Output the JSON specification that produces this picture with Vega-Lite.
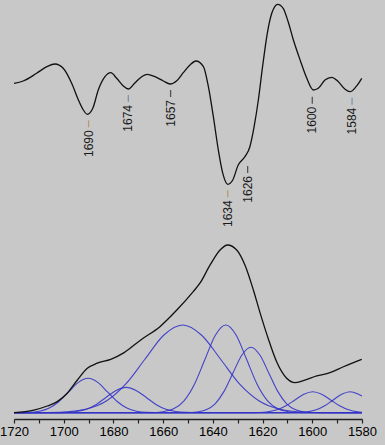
{
  "$schema": "https://vega.github.io/schema/vega-lite/v6.json",
  "width": 348,
  "height": 419,
  "autosize": {"type": "none"},
  "padding": {"left": 14, "top": 0, "right": 23, "bottom": 26},
  "background": "#c8c8c8",
  "config": {"view": {"stroke": null}, "font": "Liberation Sans"},
  "datasets": {
    "deriv": [
      {"w": 1720.0, "d": -0.033}, {"w": 1716.3, "d": -0.01}, {"w": 1710.9, "d": 0.067}, {"w": 1706.8, "d": 0.133},
      {"w": 1703.5, "d": 0.16}, {"w": 1700.2, "d": 0.117}, {"w": 1696.8, "d": -0.033}, {"w": 1694.1, "d": -0.2},
      {"w": 1692.1, "d": -0.3}, {"w": 1690.5, "d": -0.343}, {"w": 1688.3, "d": -0.283}, {"w": 1686.1, "d": -0.1},
      {"w": 1683.4, "d": 0.033}, {"w": 1681.1, "d": 0.073}, {"w": 1678.7, "d": 0.017}, {"w": 1676.0, "d": -0.06},
      {"w": 1674.0, "d": -0.09}, {"w": 1671.3, "d": -0.027}, {"w": 1668.6, "d": 0.033}, {"w": 1666.4, "d": 0.057},
      {"w": 1663.3, "d": 0.033}, {"w": 1659.9, "d": -0.01}, {"w": 1657.2, "d": -0.04}, {"w": 1654.5, "d": -0.007},
      {"w": 1651.9, "d": 0.073}, {"w": 1649.2, "d": 0.15}, {"w": 1646.8, "d": 0.19}, {"w": 1643.8, "d": 0.133},
      {"w": 1641.8, "d": -0.067}, {"w": 1639.8, "d": -0.367}, {"w": 1637.8, "d": -0.7}, {"w": 1636.0, "d": -0.933},
      {"w": 1634.0, "d": -1.043}, {"w": 1632.0, "d": -1.0}, {"w": 1629.8, "d": -0.85}, {"w": 1627.1, "d": -0.767},
      {"w": 1625.1, "d": -0.667}, {"w": 1623.4, "d": -0.467}, {"w": 1621.7, "d": -0.2}, {"w": 1620.0, "d": 0.133},
      {"w": 1618.1, "d": 0.467}, {"w": 1616.3, "d": 0.667}, {"w": 1613.9, "d": 0.757}, {"w": 1611.7, "d": 0.717},
      {"w": 1609.8, "d": 0.59}, {"w": 1607.6, "d": 0.4}, {"w": 1604.9, "d": 0.2}, {"w": 1602.2, "d": 0.017},
      {"w": 1599.6, "d": -0.1}, {"w": 1597.6, "d": -0.083}, {"w": 1594.9, "d": 0.0}, {"w": 1592.2, "d": 0.027},
      {"w": 1589.5, "d": -0.017}, {"w": 1586.8, "d": -0.093}, {"w": 1584.8, "d": -0.117}, {"w": 1582.4, "d": -0.067},
      {"w": 1580.1, "d": 0.017}
    ],
    "peaks": [
      {"w": 1690, "d": -0.343, "label": "1690", "set": "A"},
      {"w": 1674, "d": -0.09, "label": "1674", "set": "B"},
      {"w": 1657, "d": -0.04, "label": "1657", "set": "C"},
      {"w": 1634, "d": -1.043, "label": "1634", "set": "A"},
      {"w": 1626, "d": -0.8, "label": "1626", "set": "C"},
      {"w": 1600, "d": -0.107, "label": "1600", "set": "C"},
      {"w": 1584, "d": -0.117, "label": "1584", "set": "B"}
    ],
    "envelope": [
      {"w": 1720.0, "a": 0.0}, {"w": 1712.0, "a": 0.016}, {"w": 1706.6, "a": 0.04}, {"w": 1702.6, "a": 0.066},
      {"w": 1698.6, "a": 0.116}, {"w": 1694.5, "a": 0.195}, {"w": 1690.5, "a": 0.265}, {"w": 1686.5, "a": 0.295},
      {"w": 1681.1, "a": 0.318}, {"w": 1675.7, "a": 0.358}, {"w": 1669.0, "a": 0.434}, {"w": 1661.3, "a": 0.513},
      {"w": 1654.5, "a": 0.612}, {"w": 1647.9, "a": 0.722}, {"w": 1645.2, "a": 0.772}, {"w": 1641.1, "a": 0.881},
      {"w": 1637.1, "a": 0.97}, {"w": 1634.1, "a": 1.0}, {"w": 1630.4, "a": 0.97}, {"w": 1627.1, "a": 0.881},
      {"w": 1623.7, "a": 0.732}, {"w": 1621.0, "a": 0.595}, {"w": 1617.8, "a": 0.445}, {"w": 1614.3, "a": 0.302},
      {"w": 1610.3, "a": 0.205}, {"w": 1607.0, "a": 0.179}, {"w": 1603.6, "a": 0.191}, {"w": 1598.2, "a": 0.219},
      {"w": 1592.9, "a": 0.239}, {"w": 1587.5, "a": 0.274}, {"w": 1580.1, "a": 0.318}
    ],
    "bands": [
      {"band": "1690", "w": 1720, "a": 0}, {"band": "1690", "w": 1714.6, "a": 0.002}, {"band": "1690", "w": 1709.7, "a": 0.009},
      {"band": "1690", "w": 1705.8, "a": 0.028}, {"band": "1690", "w": 1701.9, "a": 0.067}, {"band": "1690", "w": 1698.0, "a": 0.124},
      {"band": "1690", "w": 1694.1, "a": 0.181}, {"band": "1690", "w": 1690.2, "a": 0.205}, {"band": "1690", "w": 1686.3, "a": 0.181},
      {"band": "1690", "w": 1682.4, "a": 0.124}, {"band": "1690", "w": 1678.5, "a": 0.067}, {"band": "1690", "w": 1674.6, "a": 0.028},
      {"band": "1690", "w": 1670.7, "a": 0.009}, {"band": "1690", "w": 1666.8, "a": 0.002}, {"band": "1690", "w": 1660, "a": 0},
      {"band": "1690", "w": 1580, "a": 0},

      {"band": "1675", "w": 1720, "a": 0}, {"band": "1675", "w": 1702.9, "a": 0}, {"band": "1675", "w": 1698.9, "a": 0.002},
      {"band": "1675", "w": 1694.9, "a": 0.007}, {"band": "1675", "w": 1690.9, "a": 0.02}, {"band": "1675", "w": 1686.9, "a": 0.049},
      {"band": "1675", "w": 1682.9, "a": 0.092}, {"band": "1675", "w": 1678.9, "a": 0.133}, {"band": "1675", "w": 1674.9, "a": 0.151},
      {"band": "1675", "w": 1670.9, "a": 0.133}, {"band": "1675", "w": 1666.9, "a": 0.092}, {"band": "1675", "w": 1662.9, "a": 0.049},
      {"band": "1675", "w": 1658.9, "a": 0.02}, {"band": "1675", "w": 1654.9, "a": 0.007}, {"band": "1675", "w": 1650.9, "a": 0.002},
      {"band": "1675", "w": 1645, "a": 0}, {"band": "1675", "w": 1580, "a": 0},

      {"band": "1652", "w": 1720, "a": 0}, {"band": "1652", "w": 1705.8, "a": 0.001}, {"band": "1652", "w": 1698.0, "a": 0.006},
      {"band": "1652", "w": 1690.4, "a": 0.023}, {"band": "1652", "w": 1682.7, "a": 0.071}, {"band": "1652", "w": 1675.1, "a": 0.17},
      {"band": "1652", "w": 1667.4, "a": 0.317}, {"band": "1652", "w": 1659.8, "a": 0.462}, {"band": "1652", "w": 1652.1, "a": 0.523},
      {"band": "1652", "w": 1644.5, "a": 0.462}, {"band": "1652", "w": 1636.8, "a": 0.317}, {"band": "1652", "w": 1629.2, "a": 0.17},
      {"band": "1652", "w": 1621.5, "a": 0.071}, {"band": "1652", "w": 1613.9, "a": 0.023}, {"band": "1652", "w": 1606.2, "a": 0.006},
      {"band": "1652", "w": 1598.5, "a": 0.001}, {"band": "1652", "w": 1580, "a": 0},

      {"band": "1635", "w": 1720, "a": 0}, {"band": "1635", "w": 1665, "a": 0}, {"band": "1635", "w": 1660.0, "a": 0.006},
      {"band": "1635", "w": 1655.8, "a": 0.023}, {"band": "1635", "w": 1651.6, "a": 0.071}, {"band": "1635", "w": 1647.4, "a": 0.17},
      {"band": "1635", "w": 1643.2, "a": 0.317}, {"band": "1635", "w": 1639.0, "a": 0.462}, {"band": "1635", "w": 1634.8, "a": 0.523},
      {"band": "1635", "w": 1630.6, "a": 0.462}, {"band": "1635", "w": 1626.4, "a": 0.317}, {"band": "1635", "w": 1622.2, "a": 0.17},
      {"band": "1635", "w": 1618.0, "a": 0.071}, {"band": "1635", "w": 1613.8, "a": 0.023}, {"band": "1635", "w": 1609.6, "a": 0.006},
      {"band": "1635", "w": 1604, "a": 0}, {"band": "1635", "w": 1580, "a": 0},

      {"band": "1625", "w": 1720, "a": 0}, {"band": "1625", "w": 1651, "a": 0}, {"band": "1625", "w": 1646.3, "a": 0.004},
      {"band": "1625", "w": 1642.7, "a": 0.017}, {"band": "1625", "w": 1639.1, "a": 0.053}, {"band": "1625", "w": 1635.5, "a": 0.127},
      {"band": "1625", "w": 1631.9, "a": 0.237}, {"band": "1625", "w": 1628.3, "a": 0.344}, {"band": "1625", "w": 1624.7, "a": 0.39},
      {"band": "1625", "w": 1621.1, "a": 0.344}, {"band": "1625", "w": 1617.5, "a": 0.237}, {"band": "1625", "w": 1613.9, "a": 0.127},
      {"band": "1625", "w": 1610.3, "a": 0.053}, {"band": "1625", "w": 1606.7, "a": 0.017}, {"band": "1625", "w": 1603.1, "a": 0.004},
      {"band": "1625", "w": 1598, "a": 0}, {"band": "1625", "w": 1580, "a": 0},

      {"band": "1600", "w": 1720, "a": 0}, {"band": "1600", "w": 1626, "a": 0}, {"band": "1600", "w": 1621.4, "a": 0.001},
      {"band": "1600", "w": 1617.8, "a": 0.005}, {"band": "1600", "w": 1614.2, "a": 0.017}, {"band": "1600", "w": 1610.6, "a": 0.041},
      {"band": "1600", "w": 1607.0, "a": 0.076}, {"band": "1600", "w": 1603.4, "a": 0.11}, {"band": "1600", "w": 1599.8, "a": 0.125},
      {"band": "1600", "w": 1596.2, "a": 0.11}, {"band": "1600", "w": 1592.6, "a": 0.076}, {"band": "1600", "w": 1589.0, "a": 0.041},
      {"band": "1600", "w": 1585.4, "a": 0.017}, {"band": "1600", "w": 1581.8, "a": 0.005}, {"band": "1600", "w": 1580, "a": 0.003},

      {"band": "1585", "w": 1720, "a": 0}, {"band": "1585", "w": 1610, "a": 0}, {"band": "1585", "w": 1605.2, "a": 0.001},
      {"band": "1585", "w": 1601.8, "a": 0.005}, {"band": "1585", "w": 1598.4, "a": 0.017}, {"band": "1585", "w": 1595.0, "a": 0.041},
      {"band": "1585", "w": 1591.6, "a": 0.076}, {"band": "1585", "w": 1588.2, "a": 0.11}, {"band": "1585", "w": 1584.8, "a": 0.125},
      {"band": "1585", "w": 1581.4, "a": 0.11}, {"band": "1585", "w": 1580, "a": 0.1}
    ]
  },
  "encoding": {
    "x": {
      "field": "w",
      "type": "quantitative",
      "scale": {"domain": [1580, 1720], "reverse": true, "nice": false, "zero": false},
      "axis": {
        "values": [1580, 1590, 1600, 1610, 1620, 1630, 1640, 1650, 1660, 1670, 1680, 1690, 1700, 1710, 1720],
        "labelExpr": "datum.value % 20 == 0 ? datum.label : ''",
        "format": "d",
        "labelOverlap": false,
        "labelFlush": false,
        "title": null,
        "grid": false,
        "domainColor": "#222222",
        "domainWidth": 1.5,
        "tickColor": "#222222",
        "tickSize": 4,
        "tickWidth": 1.2,
        "labelFontSize": 13,
        "labelColor": "#000000",
        "labelPadding": 2,
        "labelFont": "Liberation Sans"
      }
    }
  },
  "layer": [
    {
      "data": {"name": "deriv"},
      "mark": {"type": "line", "interpolate": "monotone", "color": "#111111", "strokeWidth": 1.3},
      "encoding": {
        "y": {"field": "d", "type": "quantitative", "scale": {"domain": [-3.39, 0.8], "nice": false, "zero": false}, "axis": null}
      }
    },
    {
      "data": {"name": "peaks"},
      "mark": {"type": "rule", "strokeWidth": 1.3, "yOffset": 6, "y2Offset": 13},
      "encoding": {
        "y": {"field": "d", "type": "quantitative", "scale": {"domain": [-3.39, 0.8], "nice": false, "zero": false}, "axis": null},
        "y2": {"field": "d"},
        "color": {"field": "set", "type": "nominal", "scale": {"domain": ["A", "B", "C"], "range": ["#b89a70", "#7f93b3", "#555555"]}, "legend": null}
      }
    },
    {
      "data": {"name": "peaks"},
      "mark": {"type": "text", "angle": 270, "align": "right", "baseline": "middle", "yOffset": 16, "fontSize": 12, "font": "Liberation Sans", "color": "#1a1a1a"},
      "encoding": {
        "y": {"field": "d", "type": "quantitative", "scale": {"domain": [-3.39, 0.8], "nice": false, "zero": false}, "axis": null},
        "text": {"field": "label"}
      }
    },
    {
      "data": {"name": "bands"},
      "mark": {"type": "line", "interpolate": "monotone", "color": "#3434c8", "strokeWidth": 1.1, "opacity": 0.9},
      "encoding": {
        "y": {"field": "a", "type": "quantitative", "scale": {"domain": [-0.0376, 2.461], "nice": false, "zero": false}, "axis": null},
        "detail": {"field": "band"}
      }
    },
    {
      "data": {"name": "envelope"},
      "mark": {"type": "line", "interpolate": "monotone", "color": "#111111", "strokeWidth": 1.3},
      "encoding": {
        "y": {"field": "a", "type": "quantitative", "scale": {"domain": [-0.0376, 2.461], "nice": false, "zero": false}, "axis": null}
      }
    }
  ],
  "resolve": {"scale": {"y": "independent", "color": "independent"}}
}
